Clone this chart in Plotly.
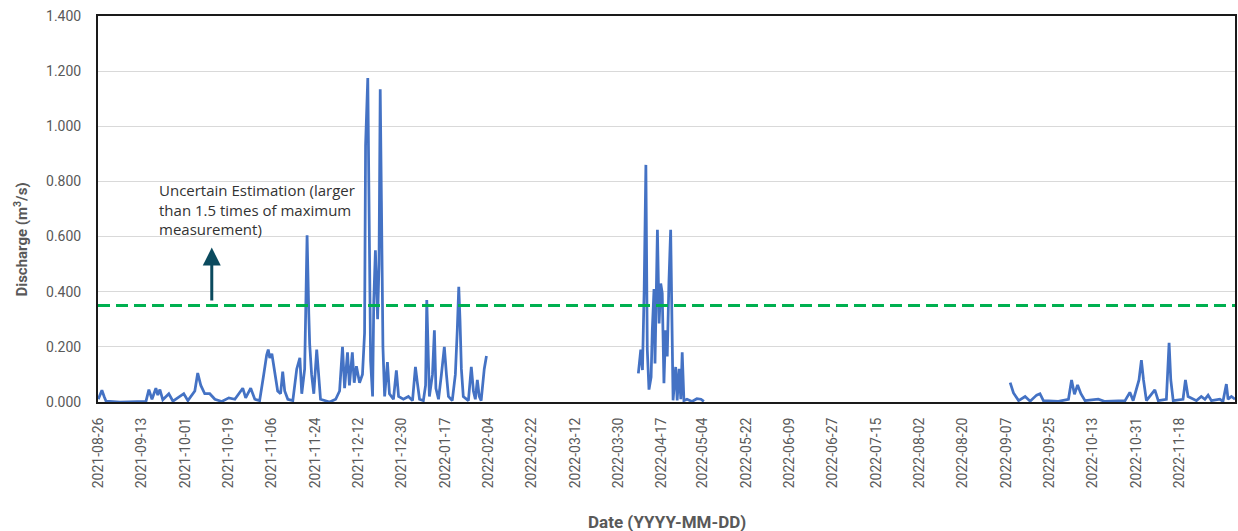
import plotly.graph_objects as go

# Discharge record, split where the logger has no data
dates_2021 = [
    "2021-08-26 00:00", "2021-08-26 17:00", "2021-08-27 12:00", "2021-08-28 10:00", "2021-08-29 05:00",
    "2021-09-04 00:00", "2021-09-14 19:00", "2021-09-16 00:00", "2021-09-17 07:00", "2021-09-18 22:00",
    "2021-09-19 17:00", "2021-09-20 14:00", "2021-09-21 19:00", "2021-09-24 07:00", "2021-09-26 00:00",
    "2021-09-30 12:00", "2021-10-02 05:00", "2021-10-05 02:00", "2021-10-06 07:00", "2021-10-07 14:00",
    "2021-10-09 05:00", "2021-10-11 07:00", "2021-10-13 10:00", "2021-10-16 07:00", "2021-10-19 05:00",
    "2021-10-21 17:00", "2021-10-23 17:00", "2021-10-25 00:00", "2021-10-26 05:00", "2021-10-28 07:00",
    "2021-10-30 00:00", "2021-11-01 00:00", "2021-11-02 17:00", "2021-11-03 22:00", "2021-11-04 14:00",
    "2021-11-05 05:00", "2021-11-06 02:00", "2021-11-07 07:00", "2021-11-08 12:00", "2021-11-09 17:00",
    "2021-11-10 14:00", "2021-11-11 10:00", "2021-11-12 17:00", "2021-11-14 19:00", "2021-11-16 10:00",
    "2021-11-17 17:00", "2021-11-18 12:00", "2021-11-19 17:00", "2021-11-20 17:00", "2021-11-21 10:00",
    "2021-11-21 19:00", "2021-11-22 14:00", "2021-11-23 12:00", "2021-11-24 17:00", "2021-11-25 12:00",
    "2021-11-26 07:00", "2021-11-30 02:00", "2021-12-02 14:00", "2021-12-04 05:00", "2021-12-05 10:00",
    "2021-12-06 07:00", "2021-12-07 12:00", "2021-12-08 07:00", "2021-12-09 12:00", "2021-12-10 07:00",
    "2021-12-11 05:00", "2021-12-12 12:00", "2021-12-13 17:00", "2021-12-14 14:00", "2021-12-15 00:00",
    "2021-12-15 22:00", "2021-12-16 10:00", "2021-12-17 02:00", "2021-12-17 22:00", "2021-12-18 10:00",
    "2021-12-19 02:00", "2021-12-20 00:00", "2021-12-20 14:00", "2021-12-21 02:00", "2021-12-21 14:00",
    "2021-12-22 05:00", "2021-12-22 22:00", "2021-12-24 02:00", "2021-12-24 22:00", "2021-12-26 14:00",
    "2021-12-27 19:00", "2021-12-28 17:00", "2021-12-30 17:00", "2022-01-01 19:00", "2022-01-03 12:00",
    "2022-01-04 17:00", "2022-01-05 12:00", "2022-01-06 10:00", "2022-01-08 00:00", "2022-01-08 22:00",
    "2022-01-09 10:00", "2022-01-09 22:00", "2022-01-10 12:00", "2022-01-11 19:00", "2022-01-12 14:00",
    "2022-01-13 05:00", "2022-01-14 07:00", "2022-01-15 12:00", "2022-01-16 17:00", "2022-01-17 14:00",
    "2022-01-18 10:00", "2022-01-20 00:00", "2022-01-21 07:00", "2022-01-22 02:00", "2022-01-22 17:00",
    "2022-01-23 05:00", "2022-01-23 19:00", "2022-01-24 14:00", "2022-01-26 17:00", "2022-01-27 22:00",
    "2022-01-28 19:00", "2022-01-29 14:00", "2022-01-30 10:00", "2022-01-31 05:00", "2022-02-01 00:00",
    "2022-02-02 07:00", "2022-02-03 05:00",
]
flow_2021 = [
    0.010, 0.025, 0.043, 0.020, 0.003,
    0.000, 0.002, 0.045, 0.010, 0.050,
    0.025, 0.045, 0.008, 0.030, 0.003,
    0.030, 0.005, 0.040, 0.105, 0.060,
    0.030, 0.030, 0.010, 0.002, 0.015,
    0.010, 0.035, 0.050, 0.015, 0.050,
    0.010, 0.005, 0.100, 0.170, 0.190,
    0.160, 0.175, 0.100, 0.040, 0.030,
    0.110, 0.040, 0.010, 0.005, 0.120,
    0.160, 0.030, 0.120, 0.605, 0.320,
    0.210, 0.100, 0.030, 0.190, 0.100,
    0.010, 0.000, 0.010, 0.040, 0.200,
    0.050, 0.180, 0.060, 0.180, 0.070,
    0.130, 0.070, 0.100, 0.250, 0.930,
    1.175, 0.600, 0.150, 0.020, 0.370,
    0.550, 0.300, 0.500, 1.134, 0.730,
    0.200, 0.020, 0.145, 0.030, 0.010,
    0.115, 0.020, 0.010, 0.020, 0.005,
    0.127, 0.070, 0.010, 0.005, 0.060,
    0.370, 0.200, 0.020, 0.100, 0.260,
    0.050, 0.010, 0.100, 0.200, 0.100,
    0.020, 0.005, 0.100, 0.260, 0.418,
    0.300, 0.120, 0.020, 0.005, 0.127,
    0.040, 0.010, 0.080, 0.020, 0.005,
    0.120, 0.167,
]

dates_spring = [
    "2022-04-07 07:00", "2022-04-08 07:00", "2022-04-09 00:00", "2022-04-09 17:00", "2022-04-10 10:00",
    "2022-04-11 00:00", "2022-04-11 17:00", "2022-04-12 14:00", "2022-04-13 02:00", "2022-04-13 19:00",
    "2022-04-14 05:00", "2022-04-15 05:00", "2022-04-15 22:00", "2022-04-16 14:00", "2022-04-17 05:00",
    "2022-04-17 22:00", "2022-04-18 14:00", "2022-04-19 07:00", "2022-04-20 00:00", "2022-04-20 17:00",
    "2022-04-21 02:00", "2022-04-21 17:00", "2022-04-22 19:00", "2022-04-23 10:00", "2022-04-24 05:00",
    "2022-04-24 22:00", "2022-04-25 12:00", "2022-04-26 05:00", "2022-04-27 12:00", "2022-04-29 14:00",
    "2022-05-01 14:00", "2022-05-03 07:00", "2022-05-04 12:00",
]
flow_spring = [
    0.104, 0.190, 0.116, 0.410, 0.860,
    0.190, 0.045, 0.090, 0.260, 0.410,
    0.140, 0.625, 0.285, 0.430, 0.395,
    0.068, 0.260, 0.165, 0.440, 0.625,
    0.390, 0.006, 0.127, 0.006, 0.120,
    0.010, 0.180, 0.005, 0.010, 0.002,
    0.012, 0.010, 0.002,
]

dates_autumn = [
    "2022-09-08 17:00", "2022-09-10 02:00", "2022-09-12 05:00", "2022-09-14 22:00", "2022-09-17 00:00",
    "2022-09-19 17:00", "2022-09-21 02:00", "2022-09-22 12:00", "2022-09-28 17:00", "2022-10-02 22:00",
    "2022-10-04 05:00", "2022-10-05 10:00", "2022-10-06 17:00", "2022-10-08 02:00", "2022-10-09 19:00",
    "2022-10-15 07:00", "2022-10-18 02:00", "2022-10-26 10:00", "2022-10-28 10:00", "2022-10-29 19:00",
    "2022-11-01 05:00", "2022-11-02 05:00", "2022-11-03 02:00", "2022-11-04 07:00", "2022-11-07 19:00",
    "2022-11-09 05:00", "2022-11-12 14:00", "2022-11-13 17:00", "2022-11-14 10:00", "2022-11-15 10:00",
    "2022-11-19 12:00", "2022-11-20 12:00", "2022-11-21 14:00", "2022-11-25 02:00", "2022-11-27 02:00",
    "2022-11-28 14:00", "2022-11-29 22:00", "2022-12-01 07:00", "2022-12-04 19:00", "2022-12-06 02:00",
    "2022-12-07 12:00", "2022-12-08 05:00", "2022-12-09 14:00", "2022-12-11 02:00",
]
flow_autumn = [
    0.070, 0.033, 0.005, 0.020, 0.003,
    0.025, 0.030, 0.005, 0.002, 0.010,
    0.080, 0.028, 0.062, 0.030, 0.005,
    0.010, 0.002, 0.005, 0.035, 0.005,
    0.080, 0.152, 0.080, 0.005, 0.044,
    0.005, 0.010, 0.215, 0.080, 0.005,
    0.010, 0.080, 0.020, 0.005, 0.020,
    0.010, 0.025, 0.005, 0.010, 0.002,
    0.065, 0.010, 0.020, 0.010,
]

# Threshold: 1.5 x the largest measured discharge
threshold = 0.35

tick_dates = [
    "2021-08-26", "2021-09-13", "2021-10-01", "2021-10-19", "2021-11-06", "2021-11-24",
    "2021-12-12", "2021-12-30", "2022-01-17", "2022-02-04", "2022-02-22", "2022-03-12",
    "2022-03-30", "2022-04-17", "2022-05-04", "2022-05-22", "2022-06-09", "2022-06-27",
    "2022-07-15", "2022-08-02", "2022-08-20", "2022-09-07", "2022-09-25", "2022-10-13",
    "2022-10-31", "2022-11-18",
]
y_ticks = [0.0, 0.2, 0.4, 0.6, 0.8, 1.0, 1.2, 1.4]

note_text = "Uncertain Estimation (larger<br>than 1.5 times of maximum<br>measurement)"

LINE_BLUE = "#4472C4"
GREEN = "#00B050"
ARROW = "#0B4A5E"
GREY_TXT = "#595959"
FONT = "Roboto, 'Open Sans', Arial, sans-serif"

fig = go.Figure()
for xs, ys in [(dates_2021, flow_2021), (dates_spring, flow_spring), (dates_autumn, flow_autumn)]:
    fig.add_trace(go.Scatter(
        x=xs, y=ys, mode="lines",
        line=dict(color=LINE_BLUE, width=2.75),
        showlegend=False, hoverinfo="x+y",
    ))

# dashed threshold line across the full plot width
fig.add_shape(
    type="line", xref="paper", yref="y", x0=0, x1=1, y0=threshold, y1=threshold,
    line=dict(color=GREEN, width=3, dash="12px,6px"), layer="above",
)

# upward arrow and the note above it
fig.add_annotation(
    x="2021-10-12 03:00", y=0.56, ax="2021-10-12 03:00", ay=0.363,
    xref="x", yref="y", axref="x", ayref="y",
    showarrow=True, arrowhead=2, arrowsize=1.2, arrowwidth=3, arrowcolor=ARROW, text="",
)
fig.add_annotation(
    x="2021-09-19 07:00", y=0.812, xref="x", yref="y",
    text=note_text, showarrow=False, align="left",
    xanchor="left", yanchor="top",
    font=dict(family="'Open Sans', Arial, sans-serif", size=15, color="#333333"),
)

# y-axis title
fig.add_annotation(
    x=-0.068, y=0.42, xref="paper", yref="paper",
    text="<b>Discharge (m<sup>3</sup>/s)</b>", textangle=-90, showarrow=False,
    xanchor="center", yanchor="middle",
    font=dict(family=FONT, size=15, color=GREY_TXT),
)
# x-axis title
fig.add_annotation(
    x=0.5, y=-0.31, xref="paper", yref="paper",
    text="<b>Date (YYYY-MM-DD)</b>", showarrow=False,
    xanchor="center", yanchor="middle",
    font=dict(family=FONT, size=17, color=GREY_TXT),
)

fig.update_layout(
    width=1238, height=531,
    margin=dict(l=98, r=1, t=16, b=129),
    paper_bgcolor="white", plot_bgcolor="white",
    font=dict(family=FONT, color=GREY_TXT),
    xaxis=dict(
        type="date",
        range=["2021-08-25 21:00", "2022-12-11 02:00"],
        tickvals=tick_dates, ticktext=tick_dates,
        tickangle=-90, tickfont=dict(size=14, color=GREY_TXT),
        ticks="outside", ticklen=8, tickcolor="rgba(0,0,0,0)",
        showgrid=False, zeroline=False,
        showline=True, linecolor="#1a1a1a", linewidth=2, mirror=True,
    ),
    yaxis=dict(
        range=[0, 1.4], tickvals=y_ticks, tickformat=".3f",
        tickfont=dict(size=14, color=GREY_TXT),
        ticks="outside", ticklen=12, tickcolor="rgba(0,0,0,0)",
        showgrid=True, gridcolor="#D9D9D9", gridwidth=1,
        zeroline=False,
        showline=True, linecolor="#1a1a1a", linewidth=2, mirror=True,
    ),
)

fig.write_html("out.html")
